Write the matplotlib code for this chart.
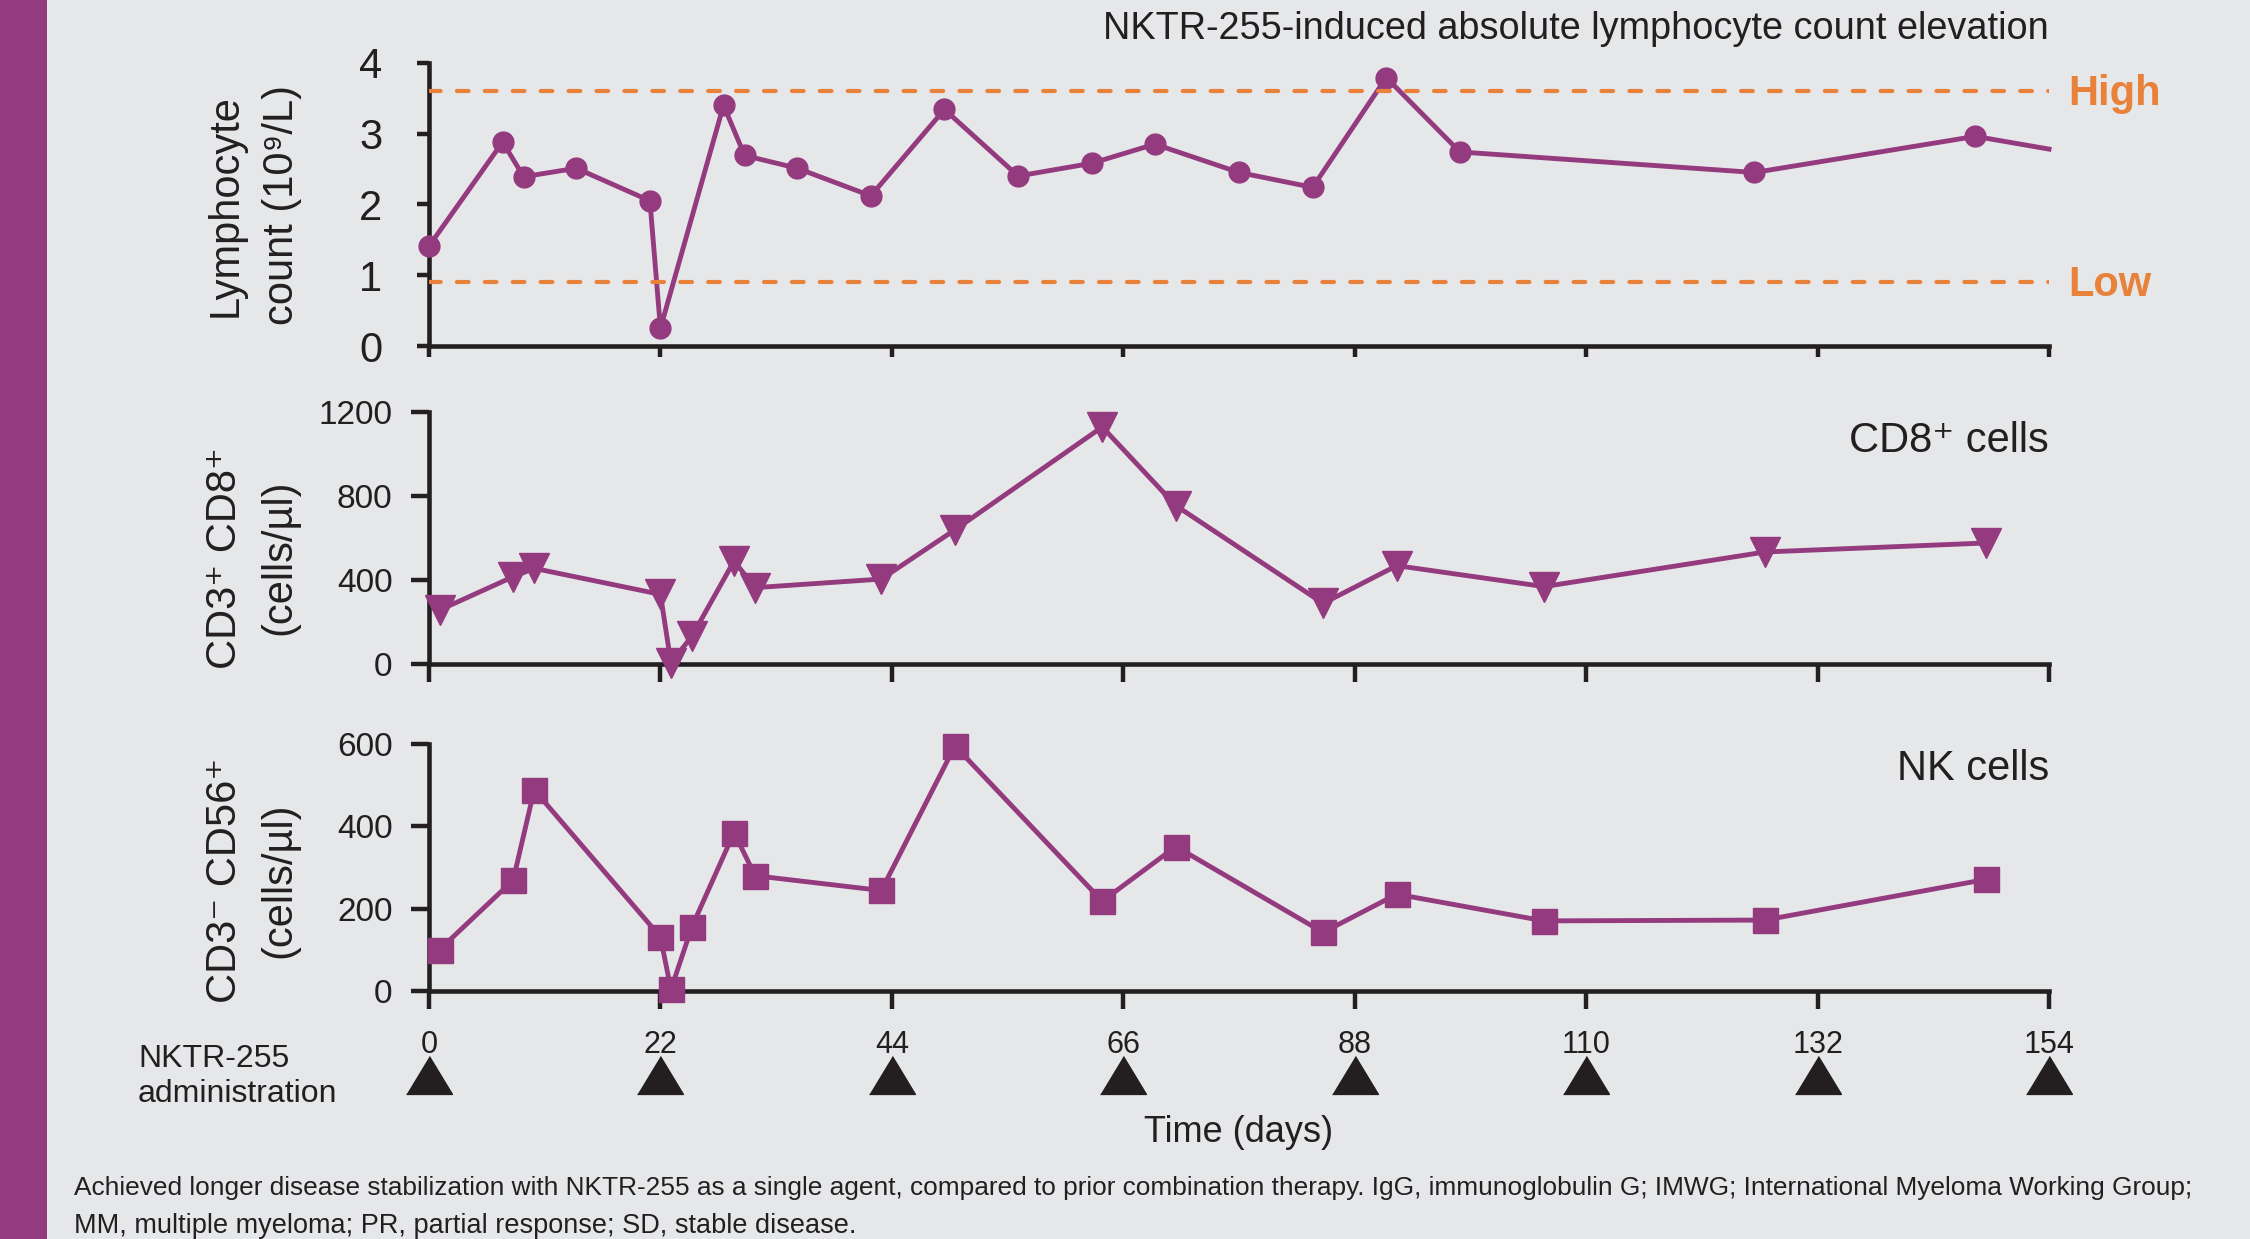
import matplotlib

matplotlib.use("Agg")
import matplotlib.pyplot as plt
from matplotlib.patches import Rectangle
from matplotlib.transforms import blended_transform_factory

# colours picked off the poster
BG = "#e6e7e9"
PURPLE = "#943a7f"
ORANGE = "#e8813a"
INK = "#231f20"

# --- data ---
lymph_days = [0, 7, 9, 14, 21, 22, 28, 30, 35, 42, 49, 56, 63, 69, 77, 84, 91, 98, 126, 147, 154]
lymph_vals = [1.41, 2.88, 2.39, 2.51, 2.05, 0.25, 3.40, 2.69, 2.51, 2.12, 3.34, 2.40, 2.58,
              2.85, 2.45, 2.24, 3.79, 2.74, 2.45, 2.96, 2.78]
lymph_high = 3.6
lymph_low = 0.9

cd8_days = [1, 8, 10, 22, 23, 25, 29, 31, 43, 50, 64, 71, 85, 92, 106, 127, 148]
cd8_vals = [257, 416, 456, 332, 5, 133, 491, 364, 405, 640, 1130, 755, 289, 469, 369, 534, 577]

nk_days = [1, 8, 10, 22, 23, 25, 29, 31, 43, 50, 64, 71, 85, 92, 106, 127, 148]
nk_vals = [100, 269, 489, 131, 3, 156, 385, 280, 244, 596, 218, 351, 142, 235, 170, 172, 271]

admin_days = [0, 22, 44, 66, 88, 110, 132, 154]

title = "NKTR-255-induced absolute lymphocyte count elevation"
footnote = [
    "Achieved longer disease stabilization with NKTR-255 as a single agent, compared to prior "
    "combination therapy. IgG, immunoglobulin G; IMWG; International Myeloma Working Group;",
    "MM, multiple myeloma; PR, partial response; SD, stable disease.",
]

plt.rcParams.update({
    "font.family": ["Liberation Sans", "DejaVu Sans"],
    "text.color": INK,
    "axes.edgecolor": INK,
    "xtick.color": INK,
    "ytick.color": INK,
    "xtick.direction": "out",
    "ytick.direction": "out",
})

W, H = 2250, 1239
fig = plt.figure(figsize=(W / 100, H / 100), dpi=100, facecolor=BG)
fig.add_artist(Rectangle((0, 0), 47 / W, 1, transform=fig.transFigure, color=PURPLE, lw=0))


def px_axes(left, right, top, bottom):
    return fig.add_axes([left / W, 1 - bottom / H, (right - left) / W, (bottom - top) / H])


def style(ax, ylim, yticks, ysize, ylen, ypad, xlen):
    ax.set_facecolor("none")
    ax.set_xlim(0, 154)
    ax.set_ylim(*ylim)
    ax.set_xticks(admin_days)
    ax.set_yticks(yticks)
    for s in ("top", "right"):
        ax.spines[s].set_visible(False)
    for s in ("left", "bottom"):
        ax.spines[s].set_linewidth(3.3)
    ax.tick_params(axis="y", width=3.2, length=ylen, pad=ypad, labelsize=ysize)
    ax.tick_params(axis="x", width=3.2, length=xlen, pad=15, labelsize=22)


ax1 = px_axes(429, 2049, 62.7, 346)
ax2 = px_axes(429, 2049, 412.3, 664)
ax3 = px_axes(429, 2049, 744.3, 990.7)

style(ax1, (0, 4), [0, 1, 2, 3, 4], 30, 8.6, 25, 7.7)
style(ax2, (0, 1200), [0, 400, 800, 1200], 24, 13.3, 13, 13.3)
style(ax3, (0, 600), [0, 200, 400, 600], 24, 13.3, 13, 13.3)
ax1.tick_params(labelbottom=False)
ax2.tick_params(labelbottom=False)

# lymphocyte panel: last point is where the line leaves the axis, no marker there
ax1.plot(lymph_days, lymph_vals, color=PURPLE, lw=3.5, marker="o", ms=15,
         markevery=list(range(len(lymph_days) - 1)), clip_on=False, zorder=3)
for val, lab in ((lymph_high, "High"), (lymph_low, "Low")):
    ax1.axhline(val, color=ORANGE, lw=3.0, ls=(0, (2.8, 3.9)), dash_capstyle="round", zorder=4)
    ax1.annotate(lab, xy=(1, val), xycoords=("axes fraction", "data"), xytext=(13.7, -10),
                 textcoords="offset points", ha="left", va="baseline", fontsize=30,
                 fontweight="bold", color=ORANGE)

ax2.plot(cd8_days, cd8_vals, color=PURPLE, lw=3.5, marker="v", ms=22, clip_on=False, zorder=3)
ax3.plot(nk_days, nk_vals, color=PURPLE, lw=3.5, marker="s", ms=18, clip_on=False, zorder=3)

# dosing arrows under the time axis
tri = [(-1, -0.826), (1, -0.826), (0, 0.826)]
trans = blended_transform_factory(ax3.transData, ax3.transAxes)
ax3.plot(admin_days, [-0.342] * len(admin_days), transform=trans, ls="none", marker=tri,
         ms=33, color=INK, clip_on=False)

# y labels, one text per line
ylabels = [
    ("Lymphocyte", 226, 206), ("count (10\u2079/L)", 282, 205),
    ("CD3\u207a CD8\u207a", 225, 558), ("(cells/\u00b5l)", 279, 557),
    ("CD3\u207b CD56\u207a", 225, 880), ("(cells/\u00b5l)", 279, 880),
]
for txt, x, y in ylabels:
    fig.text(x / W, 1 - y / H, txt, rotation=90, ha="center", va="center", fontsize=30)

fig.text(2049 / W, 1 - 39 / H, title, ha="right", va="baseline", fontsize=27.3)
fig.text(2049 / W, 1 - 452 / H, "CD8\u207a cells", ha="right", va="baseline", fontsize=30)
fig.text(2049 / W, 1 - 780 / H, "NK cells", ha="right", va="baseline", fontsize=30)

fig.text(138 / W, 1 - 1067 / H, "NKTR-255", va="baseline", fontsize=23)
fig.text(138 / W, 1 - 1102 / H, "administration", va="baseline", fontsize=23)
fig.text(1239 / W, 1 - 1142 / H, "Time (days)", ha="center", va="baseline", fontsize=26)

fig.text(74 / W, 1 - 1195 / H, footnote[0], va="baseline", fontsize=18.9)
fig.text(74 / W, 1 - 1233 / H, footnote[1], va="baseline", fontsize=19.5)

fig.savefig("out.png", dpi=100, facecolor=BG)
